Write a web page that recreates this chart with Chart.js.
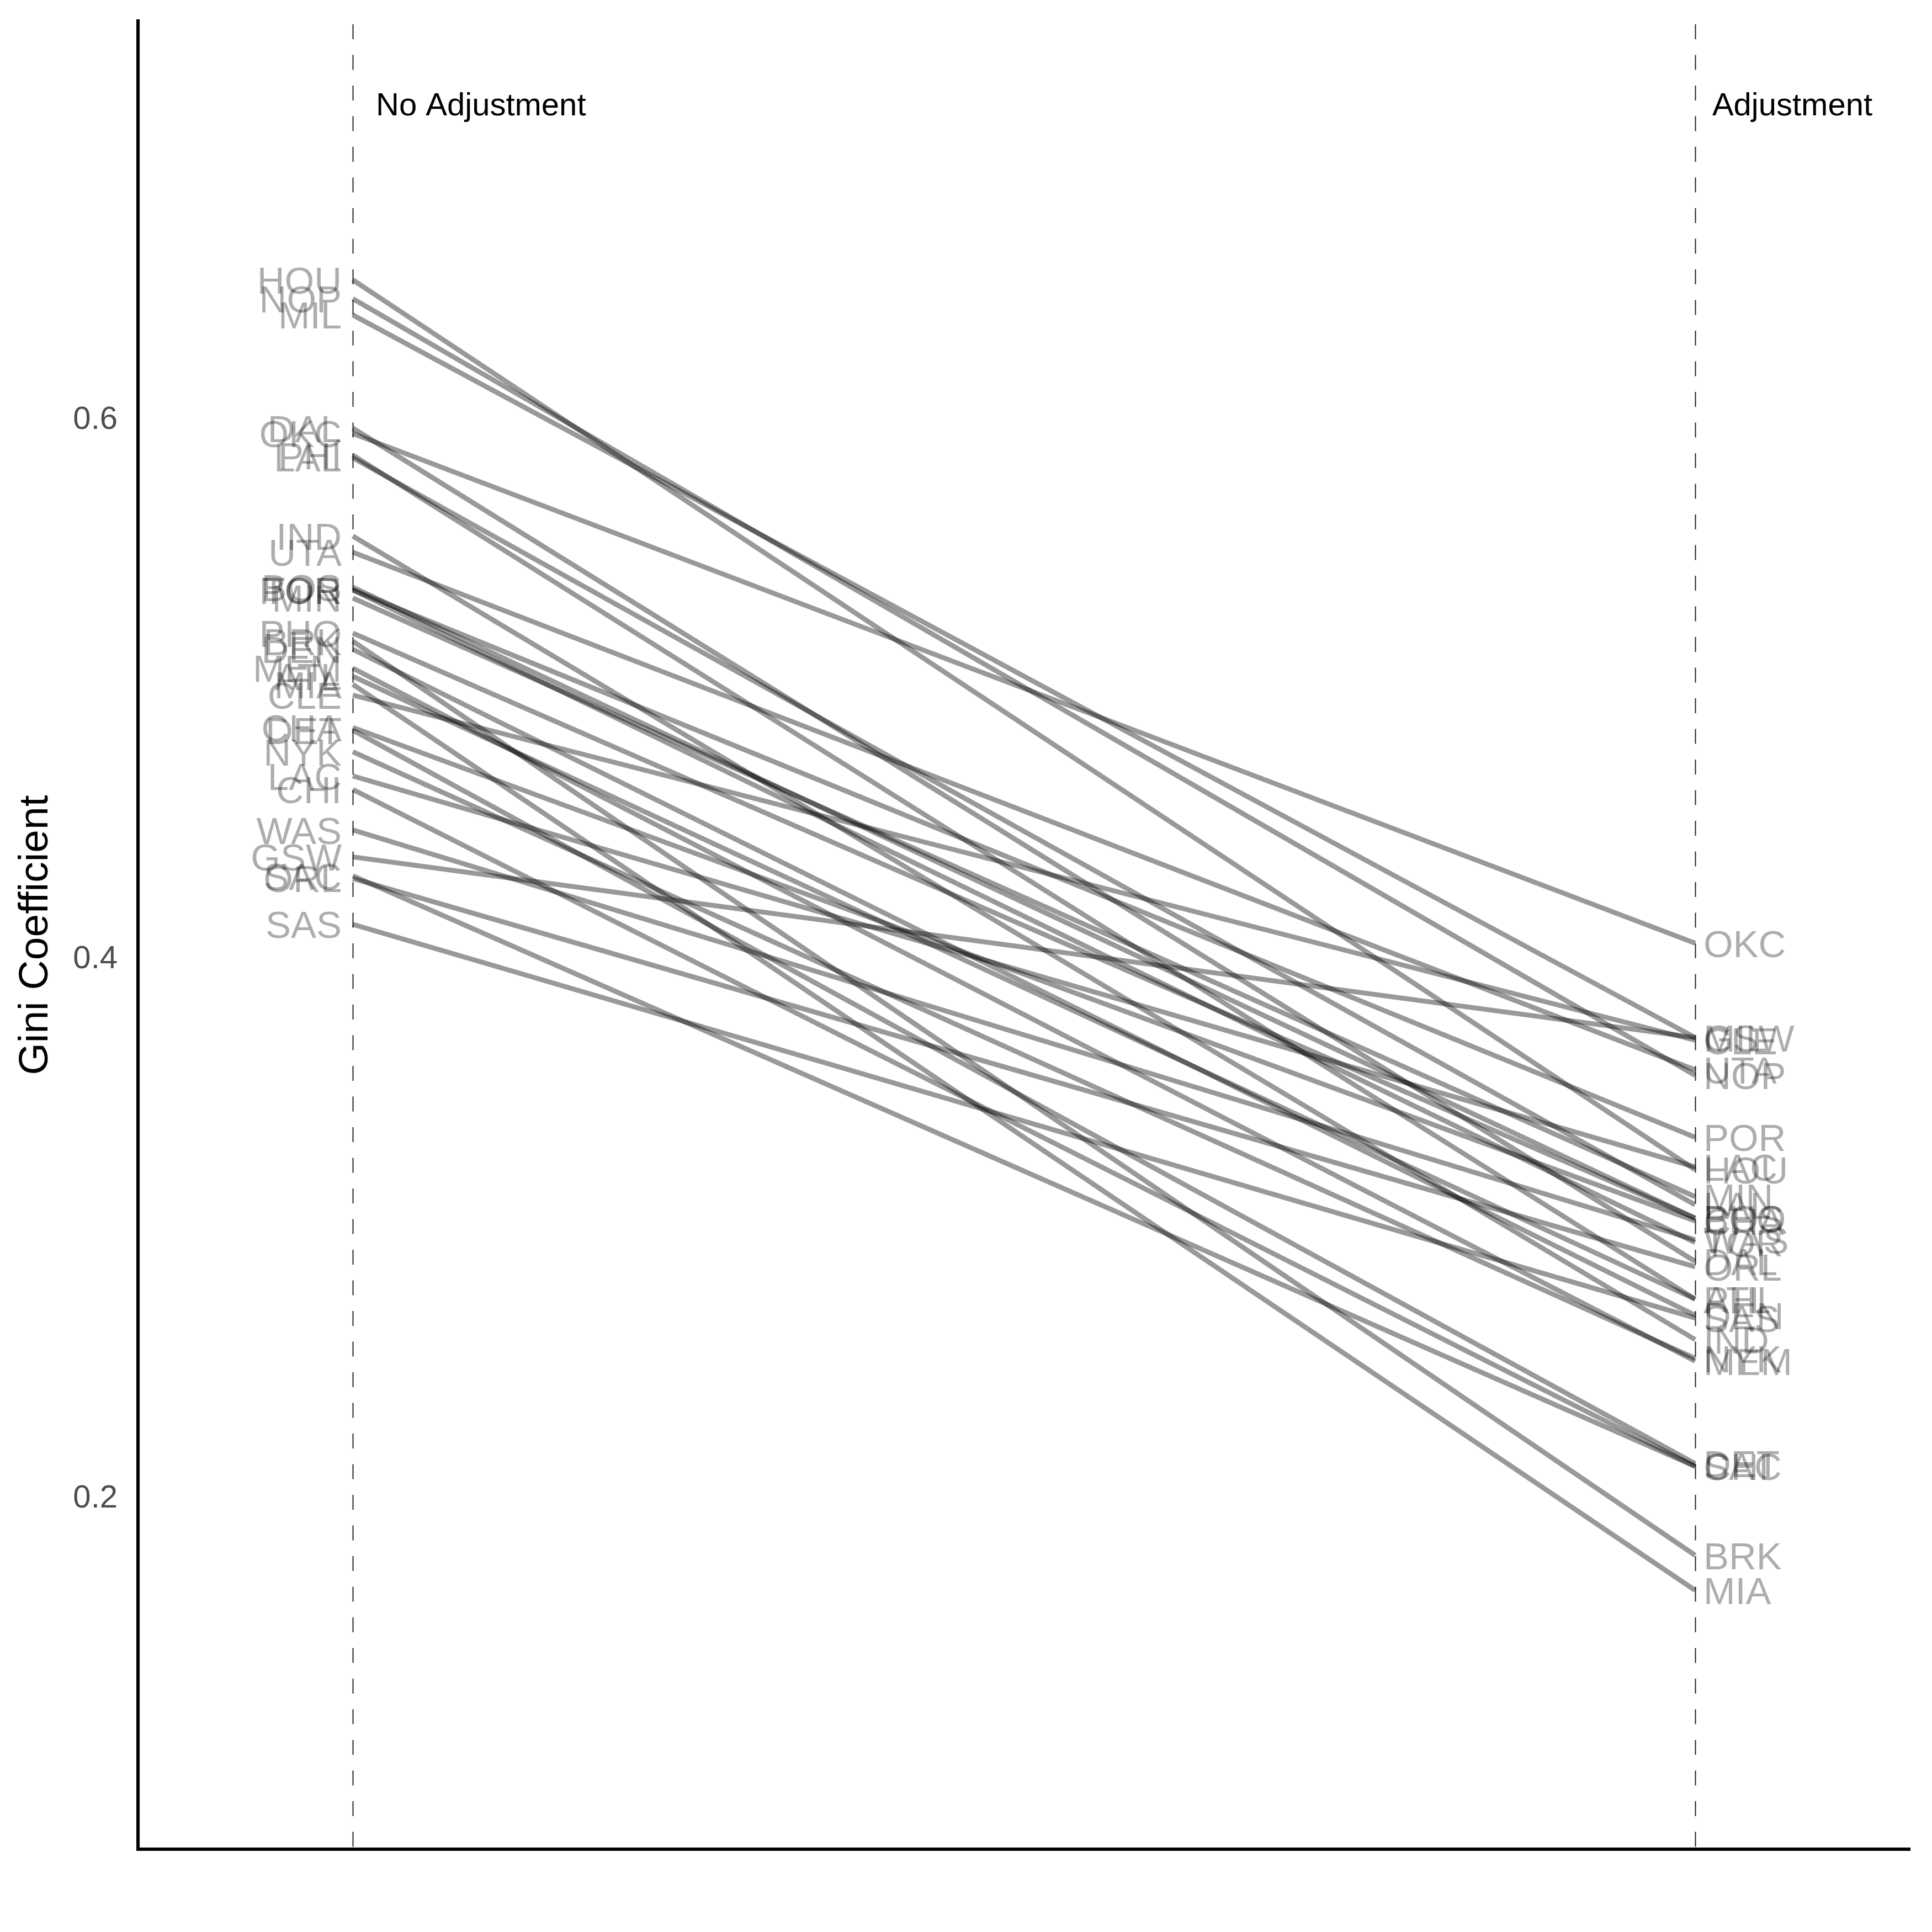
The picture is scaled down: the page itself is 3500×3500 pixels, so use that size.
<!DOCTYPE html>
<html>
<head>
<meta charset="utf-8">
<script src="https://cdn.jsdelivr.net/npm/chart.js@4.4.1/dist/chart.umd.min.js"></script>
<style>
  html, body { margin: 0; padding: 0; background: #fff; }
  #wrap { width: 3500px; height: 3500px; }
</style>
</head>
<body>
<div id="wrap"><canvas id="chart" width="3500" height="3500"></canvas></div>
<script>
// Gini coefficient per team, before and after adjustment
const teams = ['HOU','NOP','MIL','DAL','OKC','PHI','LAL','IND','UTA','BOS','POR','TOR','MIN','PHO','BRK',
               'DEN','MEM','ATL','MIA','CLE','CHA','DET','NYK','LAC','CHI','WAS','GSW','SAC','ORL','SAS'];
const noAdj = [0.652,0.645,0.639,0.597,0.595,0.587,0.586,0.557,0.551,0.538,0.537,0.537,0.534,0.521,0.518,
               0.515,0.508,0.505,0.502,0.498,0.486,0.485,0.477,0.468,0.463,0.448,0.438,0.431,0.430,0.413];
const adj   = [0.322,0.357,0.371,0.288,0.406,0.274,0.309,0.259,0.359,0.304,0.334,0.295,0.312,0.304,0.179,
               0.268,0.251,0.274,0.166,0.370,0.303,0.213,0.252,0.323,0.212,0.296,0.371,0.212,0.286,0.267];
const stageX = [1, 2];
const stageLabels = ['No Adjustment', 'Adjustment'];
const headerY = 0.717;
const yTicks = [0.2, 0.4, 0.6];

const FONT = '"Liberation Sans", Arial, Helvetica, sans-serif';

const datasets = teams.map((t, i) => ({
  label: t,
  data: [{ x: stageX[0], y: noAdj[i] }, { x: stageX[1], y: adj[i] }],
  borderColor: 'rgba(0,0,0,0.4)',
  borderWidth: 9,
  pointRadius: 0,
  fill: false,
  tension: 0
}));

const slopePlugin = {
  id: 'slope',
  beforeDatasetsDraw(chart) {
    const { ctx, chartArea, scales: { x } } = chart;
    ctx.save();
    ctx.strokeStyle = '#222';
    ctx.lineWidth = 2;
    ctx.setLineDash([27, 28.5]);
    stageX.forEach(v => {
      const px = Math.round(x.getPixelForValue(v)) + 0.5;
      ctx.beginPath();
      ctx.moveTo(px, chartArea.top + 6);
      ctx.lineTo(px, chartArea.bottom);
      ctx.stroke();
    });
    ctx.restore();
  },
  afterDatasetsDraw(chart) {
    const { ctx, scales: { x, y } } = chart;
    const x1 = x.getPixelForValue(stageX[0]);
    const x2 = x.getPixelForValue(stageX[1]);
    ctx.save();
    // team labels (nudged so the caps sit centred on the value)
    ctx.font = '69px ' + FONT;
    ctx.fillStyle = 'rgba(0,0,0,0.32)';
    ctx.textBaseline = 'middle';
    teams.forEach((t, i) => {
      ctx.textAlign = 'right';
      ctx.fillText(t, x1 - 20, y.getPixelForValue(noAdj[i]) + 6);
      ctx.textAlign = 'left';
      ctx.fillText(t, x2 + 15, y.getPixelForValue(adj[i]) + 6);
    });
    // stage headers
    ctx.font = '58px ' + FONT;
    ctx.fillStyle = '#000';
    ctx.textAlign = 'left';
    ctx.fillText(stageLabels[0], x1 + 42, y.getPixelForValue(headerY) + 4);
    ctx.fillText(stageLabels[1], x2 + 31, y.getPixelForValue(headerY) + 4);
    ctx.restore();
  }
};

new Chart(document.getElementById('chart'), {
  type: 'line',
  data: { datasets },
  plugins: [slopePlugin],
  options: {
    responsive: false,
    animation: false,
    devicePixelRatio: 1,
    layout: { padding: { top: 38, right: 40, bottom: 150, left: 0 } },
    plugins: { legend: { display: false }, tooltip: { enabled: false } },
    scales: {
      x: {
        type: 'linear',
        min: 0.84,
        max: 2.16,
        ticks: { display: false },
        grid: { display: false, drawTicks: false },
        border: { display: true, color: '#000', width: 6 },
        afterFit: s => { s.height = 0; s.paddingLeft = 0; s.paddingRight = 0; }
      },
      y: {
        type: 'linear',
        position: 'left',
        min: 0.07,
        max: 0.748,
        afterBuildTicks: s => { s.ticks = yTicks.map(v => ({ value: v })); },
        ticks: {
          font: { size: 58, family: FONT },
          color: '#4d4d4d',
          padding: 37,
          callback: v => v.toFixed(1)
        },
        grid: { display: false, drawTicks: false },
        border: { display: true, color: '#000', width: 6 },
        title: {
          display: true,
          text: 'Gini Coefficient',
          color: '#000',
          font: { size: 75, family: FONT },
          padding: { top: 20, bottom: 0 }
        },
        afterFit: s => { s.width = 250; s.paddingTop = 0; s.paddingBottom = 0; }
      }
    }
  }
});
</script>
</body>
</html>
